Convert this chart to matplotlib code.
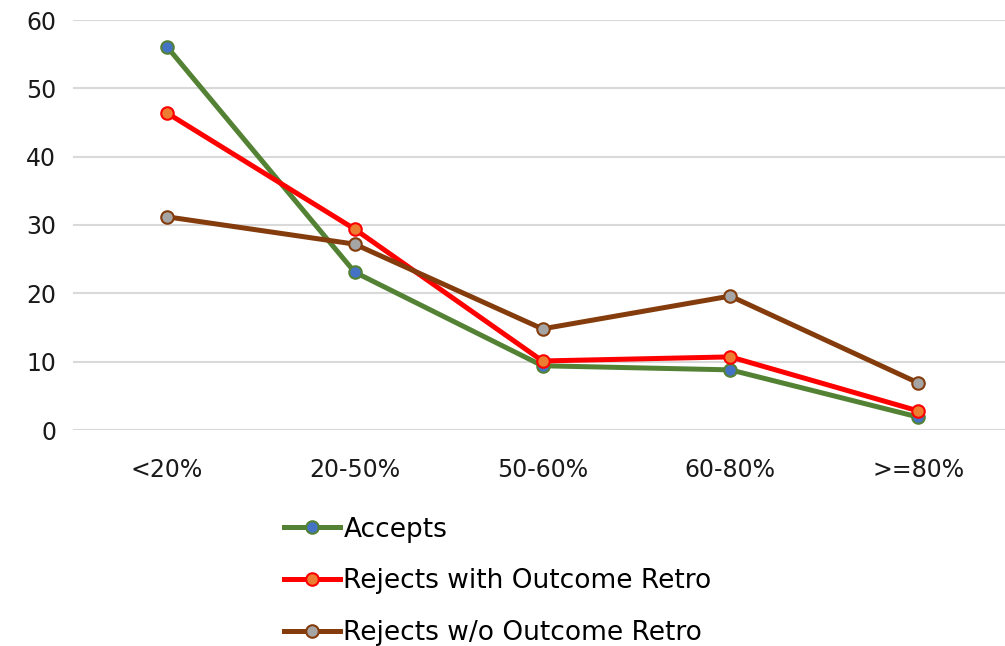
import matplotlib.pyplot as plt

plt.rcParams['font.family'] = ['DejaVu Sans']

# categorias de faixa e os tres grupos
faixas = ["<20%", "20-50%", "50-60%", "60-80%", ">=80%"]
accepts = [56.1, 23.1, 9.4, 8.8, 1.9]
rejects_com_retro = [46.4, 29.4, 10.1, 10.7, 2.8]
rejects_sem_retro = [31.2, 27.2, 14.8, 19.6, 6.9]

fig = plt.figure(figsize=(10.05, 6.46), dpi=100)
ax = fig.add_axes([73 / 1005, 1 - 430 / 646, 939 / 1005, 410 / 646])

x = range(len(faixas))
series = [
    (accepts, "Accepts", "#548235", "#4472C4"),
    (rejects_com_retro, "Rejects with Outcome Retro", "#FF0000", "#ED7D31"),
    (rejects_sem_retro, "Rejects w/o Outcome Retro", "#843C0C", "#A5A5A5"),
]
for valores, nome, cor, cor_marcador in series:
    ax.plot(x, valores, color=cor, linewidth=3.6, marker="o", markersize=9,
            markerfacecolor=cor_marcador, markeredgecolor=cor, markeredgewidth=1.5,
            label=nome)

ax.set_xlim(-0.5, len(faixas) - 0.5)
ax.set_ylim(0, 60)
ax.set_yticks(range(0, 61, 10))
ax.set_xticks(list(x))
ax.set_xticklabels(faixas)
ax.grid(axis="y", color="#D9D9D9", linewidth=1.5)
ax.set_axisbelow(True)
for s in ax.spines.values():
    s.set_visible(False)
ax.tick_params(axis="both", length=0, labelsize=17, colors="#1a1a1a")
ax.tick_params(axis="x", pad=20)
ax.tick_params(axis="y", pad=12)

fig.legend(loc="upper left", bbox_to_anchor=(273 / 1005, 1 - 506 / 646),
           frameon=False, fontsize=19, handlelength=2.15, handletextpad=0.12,
           labelspacing=0.97, borderaxespad=0)

fig.savefig("out.png", dpi=100)
